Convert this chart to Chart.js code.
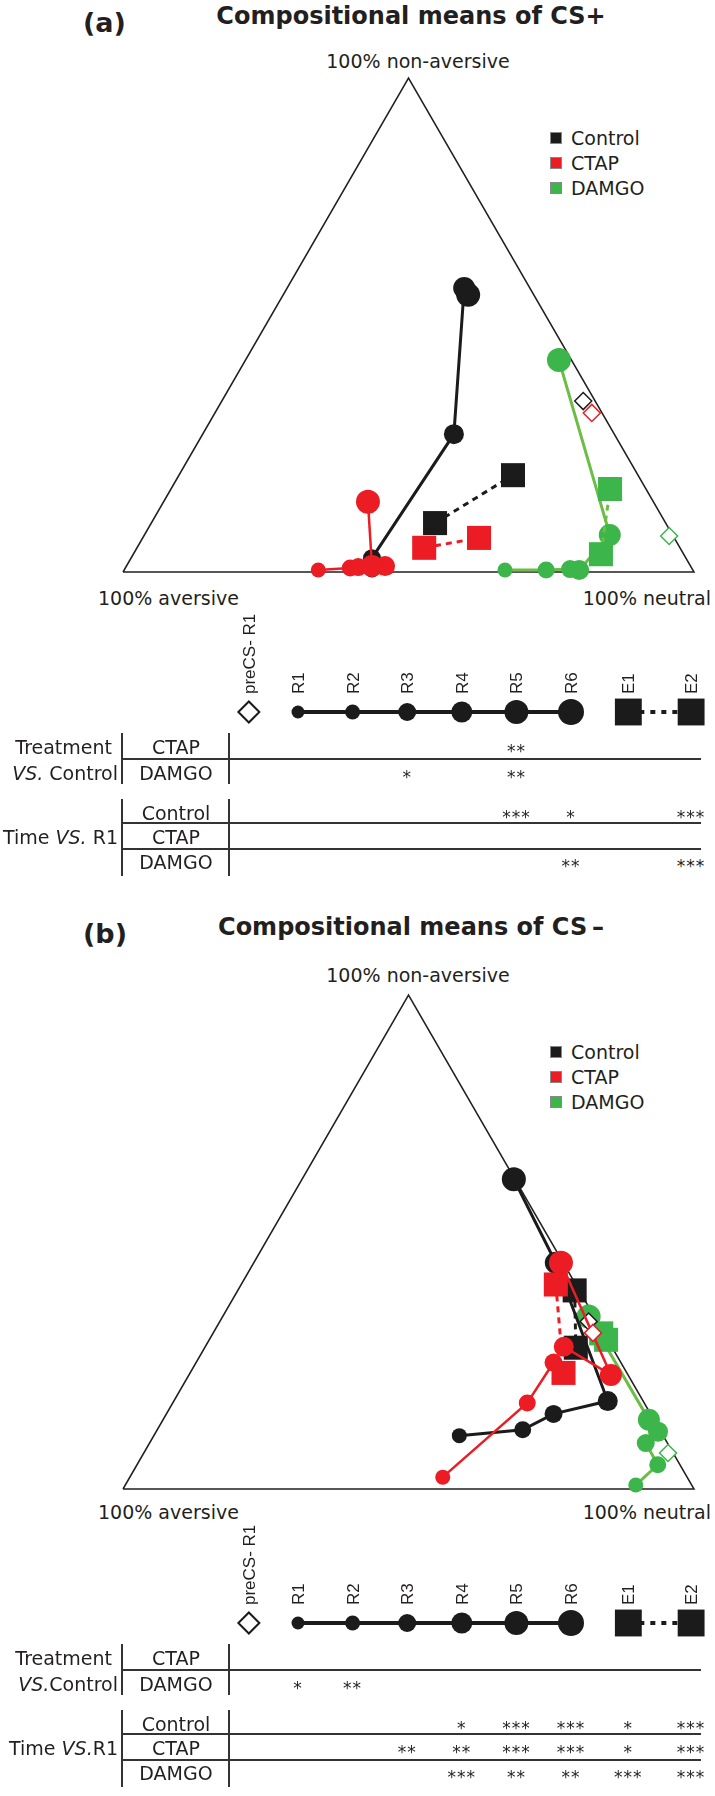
<!DOCTYPE html>
<html lang="en">
<head>
<meta charset="UTF-8">
<title>Compositional means of CS+ and CS-</title>
<script src="https://cdn.jsdelivr.net/npm/chart.js"></script>
<style>
  body { margin: 0; background: #fff; }
  #page {
    position: relative;
    width: 715px;
    height: 1796px;
    overflow: hidden;
    font-family: "DejaVu Sans", Verdana, sans-serif;
    color: #231f20;
  }
  .lbl { position: absolute; white-space: nowrap; }
  .rot {
    position: absolute;
    white-space: nowrap;
    writing-mode: vertical-rl;
    font-family: "Liberation Sans", Arial, sans-serif;
    font-size: 17px;
    line-height: 17px;
  }
  .hline { position: absolute; height: 2px; background: #333; }
  .vline { position: absolute; width: 2px; background: #333; }
  .swatch { position: absolute; width: 10px; height: 10px; border: 1px solid #888; }
  canvas { position: absolute; left: 0; }
</style>
</head>
<body>
<div id="page"></div>

<script>
// every point is a composition: [% aversive, % non-aversive, % neutral]
const groupNames = ['Control', 'CTAP', 'DAMGO'];
const keyLabels = ['preCS- R1', 'R1', 'R2', 'R3', 'R4', 'R5', 'R6', 'E1', 'E2'];

// (a) CS+
const aCtrlR = [[56.2, 0.4, 43.4], [55.6, 1.2, 43.2], [55.0, 2.8, 42.2], [28.1, 27.9, 44.0], [11.5, 57.5, 31.0], [11.5, 56.1, 32.4]];
const aCtrlE = [[40.4, 9.9, 49.7], [21.9, 19.6, 58.5]];
const aCtrlPre = [2.1, 34.6, 63.3];
const aCtapR = [[65.6, 0.4, 34.0], [59.8, 0.8, 39.4], [58.3, 1.0, 40.7], [53.5, 1.2, 45.3], [55.8, 1.2, 43.0], [50.0, 14.2, 35.8]];
const aCtapE = [[44.8, 4.9, 50.3], [34.2, 6.9, 58.9]];
const aCtapPre = [1.8, 32.2, 66.0];
const aDamgoR = [[32.9, 0.4, 66.7], [25.7, 0.4, 73.9], [21.4, 0.6, 78.0], [19.9, 0.4, 79.7], [11.0, 7.5, 81.5], [2.2, 42.9, 54.9]];
const aDamgoE = [[14.5, 3.6, 81.9], [6.3, 16.8, 76.9]];
const aDamgoPre = [0.7, 7.3, 92.0];

// (b) CS-
const bCtrlR = [[35.7, 10.8, 53.5], [24.0, 12.0, 64.0], [17.0, 15.2, 67.8], [6.2, 17.8, 76.0], [1.3, 45.8, 52.9], [0.2, 62.7, 37.1]];
const bCtrlE = [[0.8, 40.2, 59.0], [6.4, 28.6, 65.0]];
const bCtrlPre = [1.5, 33.9, 64.6];
const bCtapR = [[42.8, 2.4, 54.8], [20.5, 17.4, 62.1], [11.8, 25.6, 62.6], [8.4, 28.8, 62.8], [3.0, 23.1, 73.9], [0.4, 45.8, 53.8]];
const bCtapE = [[3.5, 41.4, 55.1], [11.1, 23.5, 65.4]];
const bCtapPre = [1.9, 31.6, 66.5];
const bDamgoR = [[9.8, 0.8, 89.4], [3.9, 4.9, 91.2], [3.8, 9.3, 86.9], [0.5, 11.6, 87.9], [0.9, 14.0, 85.1], [1.0, 34.9, 64.1]];
const bDamgoE = [[0.3, 30.2, 69.5], [0.5, 31.5, 68.0]];
const bDamgoPre = [0.9, 7.3, 91.8];

// significance marks, one entry per key column
const aTreatCtap  = ['', '', '', '', '', '**', '', '', ''];
const aTreatDamgo = ['', '', '', '*', '', '**', '', '', ''];
const aTimeCtrl   = ['', '', '', '', '', '***', '*', '', '***'];
const aTimeCtap   = ['', '', '', '', '', '', '', '', ''];
const aTimeDamgo  = ['', '', '', '', '', '', '**', '', '***'];

const bTreatCtap  = ['', '', '', '', '', '', '', '', ''];
const bTreatDamgo = ['', '*', '**', '', '', '', '', '', ''];
const bTimeCtrl   = ['', '', '', '', '*', '***', '***', '*', '***'];
const bTimeCtap   = ['', '', '', '**', '**', '***', '***', '*', '***'];
const bTimeDamgo  = ['', '', '', '', '***', '**', '**', '***', '***'];

// ---- layout ----
const W = 715;
const keySlots = [0.1, 1, 2, 3, 4, 5, 6, 7.05, 8.2];
const keyRadius = [6.5, 7.5, 9, 10.5, 12, 13];
const triRadius = [7.5, 8.5, 9, 10, 11, 12];
const COLORS = { Control: '#1b1b1b', CTAP: '#ec1c24', DAMGO: '#3cb54a' };
const LINECOL = { Control: '#1b1b1b', CTAP: '#ec1c24', DAMGO: '#6cbd45' };
const triCorners = [[100, 0, 0], [0, 0, 100], [0, 100, 0], [100, 0, 0]];

const page = document.getElementById('page');

function toXY(p) {
    const tot = p[0] + p[1] + p[2];
    const n = p[1] / tot, t = p[2] / tot;
    return { x: t + n / 2, y: n };
}

function slotPx(s) {
    return 298 + (s - 1) * 54.6;
}

function txt(html, x, y, size, align, extra) {
    const d = document.createElement('div');
    d.className = 'lbl';
    d.innerHTML = html;
    d.style.left = x + 'px';
    d.style.top = (y - size / 2) + 'px';
    d.style.fontSize = size + 'px';
    d.style.lineHeight = size + 'px';
    const tx = align === 'center' ? '-50%' : (align === 'right' ? '-100%' : '0');
    d.style.transform = 'translateX(' + tx + ')';
    if (extra) Object.assign(d.style, extra);
    page.appendChild(d);
    return d;
}

function hline(x1, x2, y) {
    const d = document.createElement('div');
    d.className = 'hline';
    d.style.left = x1 + 'px';
    d.style.width = (x2 - x1) + 'px';
    d.style.top = (y - 1) + 'px';
    page.appendChild(d);
}

function vline(x, y1, y2) {
    const d = document.createElement('div');
    d.className = 'vline';
    d.style.left = (x - 1) + 'px';
    d.style.top = y1 + 'px';
    d.style.height = (y2 - y1) + 'px';
    page.appendChild(d);
}

function mkCanvas(top, h) {
    const c = document.createElement('canvas');
    c.width = W;
    c.height = h;
    c.style.top = top + 'px';
    c.style.width = W + 'px';
    c.style.height = h + 'px';
    page.appendChild(c);
    return c;
}

function baseOptions(xmin, xmax, ymin, ymax) {
    return {
        responsive: false,
        animation: false,
        devicePixelRatio: 1,
        events: [],
        layout: { padding: 0, autoPadding: false },
        plugins: { legend: { display: false }, tooltip: { enabled: false } },
        scales: {
            x: { type: 'linear', display: false, min: xmin, max: xmax },
            y: { type: 'linear', display: false, min: ymin, max: ymax }
        }
    };
}

// ternary plot
function triChart(panel) {
    const baseY = 572 + panel.triDy;
    const top = baseY - 540, H = 580, unit = 494;
    const canvas = mkCanvas(top, H);
    const z = { CTAP: 1, Control: 2, DAMGO: 3 };

    const datasets = [{
        data: triCorners.map(toXY), showLine: true, borderColor: '#231f20',
        borderWidth: 1.5, pointRadius: 0, order: 10, clip: false
    }];

    groupNames.forEach(g => {
        const d = panel.groups[g];
        datasets.push({
            data: d.r.map(toXY), showLine: true, borderColor: LINECOL[g],
            borderWidth: g === 'CTAP' ? 2.5 : 3, pointRadius: triRadius,
            pointBackgroundColor: COLORS[g], pointBorderWidth: 0, order: z[g] + 0.5, clip: false
        });
        datasets.push({
            data: d.e.map(toXY), showLine: true, borderColor: LINECOL[g], borderWidth: 3,
            borderDash: [6, 5], pointStyle: 'rect', pointRadius: 17,
            pointBackgroundColor: COLORS[g], pointBorderWidth: 0, order: z[g] + 0.4, clip: false
        });
        datasets.push({
            data: [toXY(d.pre)], pointStyle: 'rectRot', pointRadius: 8.5,
            pointBackgroundColor: '#fff', pointBorderColor: COLORS[g],
            pointBorderWidth: 1.5, order: z[g] + 0.3, clip: false
        });
    });

    new Chart(canvas, {
        type: 'scatter',
        data: { datasets: datasets },
        options: baseOptions(-123 / 571, (W - 123) / 571, -(H - 540) / unit, 540 / unit)
    });
}

// symbol key: preCS- diamond, R1..R6 circles, E1/E2 squares
function keyChart(rowY) {
    const canvas = mkCanvas(rowY - 30, 60);
    const datasets = [
        {
            data: keySlots.slice(1, 7).map(s => ({ x: s, y: 0 })), showLine: true,
            borderColor: '#1b1b1b', borderWidth: 4, pointRadius: keyRadius,
            pointBackgroundColor: '#1b1b1b', pointBorderWidth: 0, clip: false
        },
        {
            data: keySlots.slice(7).map(s => ({ x: s, y: 0 })), showLine: true,
            borderColor: '#1b1b1b', borderWidth: 4, borderDash: [5, 6], pointStyle: 'rect',
            pointRadius: 19, pointBackgroundColor: '#1b1b1b', pointBorderWidth: 0, clip: false
        },
        {
            data: [{ x: keySlots[0], y: 0 }], pointStyle: 'rectRot', pointRadius: 10.5,
            pointBackgroundColor: '#fff', pointBorderColor: '#1b1b1b', pointBorderWidth: 2, clip: false
        }
    ];
    new Chart(canvas, {
        type: 'scatter',
        data: { datasets: datasets },
        options: baseOptions(1 - 298 / 54.6, 1 + (W - 298) / 54.6, -1, 1)
    });

    keyLabels.forEach((lab, i) => {
        const d = document.createElement('div');
        d.className = 'rot';
        d.textContent = lab;
        d.style.left = slotPx(keySlots[i]) + 'px';
        d.style.top = (rowY - 18) + 'px';
        d.style.transform = 'translate(-50%, -100%) rotate(180deg)';
        page.appendChild(d);
    });
}

function statsTable(panel) {
    const dy = panel.dy;
    const rows = [747, 773, 813, 837, 862].map(y => y + dy);

    vline(122, 733 + dy, 784 + dy);
    vline(229, 733 + dy, 784 + dy);
    hline(122, 701, 759 + dy);
    vline(122, 799 + dy, 876 + dy);
    vline(229, 799 + dy, 876 + dy);
    hline(122, 701, 823 + dy);
    hline(122, 701, 849 + dy);

    txt('Treatment', 112, rows[0], 19, 'right');
    txt(panel.vsLabel, 118, rows[1], 19, 'right');
    txt(panel.timeLabel, 118, rows[3], 19, 'right');

    const rowNames = ['CTAP', 'DAMGO', 'Control', 'CTAP', 'DAMGO'];
    rowNames.forEach((name, i) => {
        txt(name, 176, rows[i], 19, 'center');
        panel.stars[i].forEach((s, c) => {
            if (s) txt(s, slotPx(keySlots[c]), rows[i] + 4.5, 17, 'center', { letterSpacing: '1px' });
        });
    });
}

function drawPanel(panel) {
    const t = panel.dy, l = panel.labDy;
    txt(panel.tag, 83, 22 + t, 27, 'left', { fontWeight: 'bold' });
    txt(panel.title, 411, 16 + t, 24, 'center', { fontWeight: 'bold' });

    txt('100% non-aversive', 418, 61 + l, 19, 'center');
    txt('100% aversive', 98, 598 + l, 19, 'left');
    txt('100% neutral', 711, 598 + l, 19, 'right');

    groupNames.forEach((g, i) => {
        const y = 138 + l + i * 25;
        const sw = document.createElement('div');
        sw.className = 'swatch';
        sw.style.left = '550px';
        sw.style.top = (y - 6) + 'px';
        sw.style.background = COLORS[g];
        page.appendChild(sw);
        txt(g, 571, y, 19, 'left');
    });

    triChart(panel);
    keyChart(712 + t);
    statsTable(panel);
}

const panels = [
    {
        tag: '(a)', title: 'Compositional means of CS+', dy: 0, labDy: 0, triDy: 0,
        vsLabel: '<i>VS.</i> Control', timeLabel: 'Time <i>VS.</i> R1',
        groups: {
            Control: { r: aCtrlR, e: aCtrlE, pre: aCtrlPre },
            CTAP: { r: aCtapR, e: aCtapE, pre: aCtapPre },
            DAMGO: { r: aDamgoR, e: aDamgoE, pre: aDamgoPre }
        },
        stars: [aTreatCtap, aTreatDamgo, aTimeCtrl, aTimeCtap, aTimeDamgo]
    },
    {
        tag: '(b)', title: 'Compositional means of CS\u2009\u2013', dy: 911, labDy: 914, triDy: 917,
        vsLabel: '<i>VS.</i>Control', timeLabel: 'Time <i>VS.</i>R1',
        groups: {
            Control: { r: bCtrlR, e: bCtrlE, pre: bCtrlPre },
            CTAP: { r: bCtapR, e: bCtapE, pre: bCtapPre },
            DAMGO: { r: bDamgoR, e: bDamgoE, pre: bDamgoPre }
        },
        stars: [bTreatCtap, bTreatDamgo, bTimeCtrl, bTimeCtap, bTimeDamgo]
    }
];

panels.forEach(drawPanel);
</script>
</body>
</html>
